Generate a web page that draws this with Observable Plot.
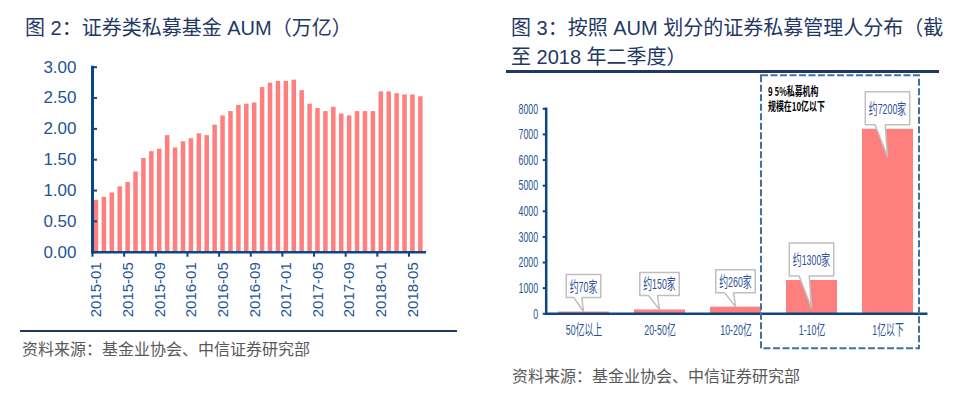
<!DOCTYPE html>
<html><head><meta charset="utf-8">
<script src="https://cdn.jsdelivr.net/npm/d3@7"></script>
<script src="https://cdn.jsdelivr.net/npm/@observablehq/plot@0.6"></script>
<style>
body{margin:0;background:#fff;width:957px;height:396px;overflow:hidden;position:relative;font-family:"Liberation Sans","Noto Sans CJK SC",sans-serif;}
.abs{position:absolute;}
.title{color:#1f3864;font-size:20px;line-height:29px;white-space:nowrap;}
.src{color:#595959;font-size:16px;line-height:20px;white-space:nowrap;}
svg{overflow:visible;}
</style></head><body>
<div class="abs title" style="left:25px;top:14px">图 2：证券类私募基金 AUM（万亿）</div>
<div id="left" class="abs" style="left:0;top:55px"></div>
<div class="abs" style="left:20px;top:330px;width:437px;height:2px;background:#1f3864"></div>
<div class="abs src" style="left:22px;top:340px">资料来源：基金业协会、中信证券研究部</div>
<div class="abs title" style="left:511px;top:14px">图 3：按照 AUM 划分的证券私募管理人分布（截<br>至 2018 年二季度）</div>
<div class="abs" style="left:506px;top:70px;width:433px;height:3px;background:#1f3864"></div>
<div id="right" class="abs" style="left:480px;top:70px"></div>
<div class="abs src" style="left:512px;top:367px">资料来源：基金业协会、中信证券研究部</div>
<script>
// ---------- data: left chart ----------
const months = ["2015-01","2015-02","2015-03","2015-04","2015-05","2015-06","2015-07","2015-08","2015-09","2015-10","2015-11","2015-12",
  "2016-01","2016-02","2016-03","2016-04","2016-05","2016-06","2016-07","2016-08","2016-09","2016-10","2016-11","2016-12",
  "2017-01","2017-02","2017-03","2017-04","2017-05","2017-06","2017-07","2017-08","2017-09","2017-10","2017-11","2017-12",
  "2018-01","2018-02","2018-03","2018-04","2018-05","2018-06"];
const aum = [0.84,0.89,0.96,1.06,1.13,1.30,1.52,1.63,1.67,1.89,1.69,1.79,
  1.84,1.92,1.89,2.06,2.21,2.28,2.38,2.40,2.42,2.67,2.74,2.77,
  2.77,2.79,2.62,2.40,2.33,2.28,2.35,2.24,2.21,2.28,2.28,2.28,
  2.60,2.60,2.57,2.55,2.55,2.52];
const tickMonths = ["2015-01","2015-05","2015-09","2016-01","2016-05","2016-09","2017-01","2017-05","2017-09","2018-01","2018-05"];
const yTicksL = [0,0.5,1,1.5,2,2.5,3];

// ---------- data: right chart ----------
const categories = ["50亿以上","20-50亿","10-20亿","1-10亿","1亿以下"];
const counts = [70,150,260,1300,7200];
const calloutLabels = ["约70家","约150家","约260家","约1300家","约7200家"];
const yTicksR = [0,1000,2000,3000,4000,5000,6000,7000,8000];
const noteLines = ["9 5%私募机构","规模在10亿以下"];

const NAVY = "#0d4683", BLUE = "#1f5496", BAR = "#ff7f7f";
const FONT = "'Liberation Sans','Noto Sans CJK SC',sans-serif";

// ---------- left chart ----------
const leftData = months.map((m,i)=>({month:m, v:aum[i]}));
const LW=460, LH=275, LML=92, LMR=35.7, LMT=11.7, LMB=78.3;
const plotWL = LW-LML-LMR, stepL = plotWL/months.length;
const left = Plot.plot({
  width:LW, height:LH, marginLeft:LML, marginRight:LMR, marginTop:LMT, marginBottom:LMB,
  style:{fontFamily:FONT, background:"transparent", overflow:"visible"},
  x:{type:"band", domain:months, paddingInner:0.43, paddingOuter:0.215, label:null},
  y:{domain:[0,3], label:null},
  marks:[
    Plot.barY(leftData,{x:"month", y:"v", fill:BAR}),
    Plot.tickY(yTicksL,{y:d=>d, stroke:NAVY, strokeWidth:2, insetRight:plotWL-5}),
    Plot.frame({anchor:"left", stroke:NAVY, strokeWidth:3}),
    Plot.frame({anchor:"bottom", stroke:NAVY, strokeWidth:2.5}),
    Plot.axisY({ticks:yTicksL, tickFormat:d3.format(".2f"), tickSize:0, tickPadding:16, fontSize:17, fill:BLUE, label:null}),
    Plot.axisX({ticks:tickMonths, tickSize:5, tickFormat:()=>"", dx:-stepL/2, stroke:NAVY, strokeWidth:2, label:null}),
    Plot.axisX({ticks:tickMonths, tickRotate:-90, tickSize:0, tickPadding:10, fontSize:15, fill:BLUE, label:null})
  ]
});
document.getElementById("left").appendChild(left);

// ---------- right chart ----------
const rightData = categories.map((c,i)=>({cat:c, n:counts[i]}));
const RW=470, RH=290, RML=65.7, RMR=24.3, RMT=38.3, RMB=46.7;
const right = Plot.plot({
  width:RW, height:RH, marginLeft:RML, marginRight:RMR, marginTop:RMT, marginBottom:RMB,
  style:{fontFamily:FONT, background:"transparent", overflow:"visible"},
  x:{type:"band", domain:categories, paddingInner:0.33, paddingOuter:0.165, label:null},
  y:{domain:[0,8000], label:null},
  marks:[
    Plot.barY(rightData,{x:"cat", y:"n", fill:BAR}),
    Plot.frame({anchor:"left", stroke:NAVY, strokeWidth:2.5}),
    Plot.frame({anchor:"bottom", stroke:NAVY, strokeWidth:2.5}),
    Plot.axisY({ticks:yTicksR, tickFormat:d=>String(d), tickSize:3, tickPadding:5, fontSize:15, fill:BLUE, stroke:NAVY, strokeWidth:2, label:null}),
    Plot.axisX({tickSize:0, tickPadding:11, fontSize:15, fill:BLUE, label:null})
  ]
});
document.getElementById("right").appendChild(right);

// condense right-chart text (narrow typeface look)
const K = 0.59;
function condense(node, k){
  const L = node.getComputedTextLength();
  if (L>0){ node.setAttribute("textLength",(L*k).toFixed(2)); node.setAttribute("lengthAdjust","spacingAndGlyphs"); }
  return L*k;
}
right.querySelectorAll("text").forEach(t=>condense(t,K));

// callouts and annotation box, positioned via the chart's own scales
const sx = right.scale("x"), sy = right.scale("y");
const bw = sx.bandwidth;
const svgR = d3.select(right);
const gC = svgR.append("g").attr("aria-label","callouts");
calloutLabels.forEach((lab,i)=>{
  const cx = sx.apply(categories[i]) + bw/2;
  const top = sy.apply(counts[i]);
  const big = counts[i] >= 1000;
  const h = big ? 33 : 23;
  const bottom = big ? top - 4 : top - 14;
  const tipY = big ? top + 28 : top;
  const cy = bottom - h/2;
  const path = gC.append("path").attr("fill","#fff").attr("stroke","#bfbfbf").attr("stroke-width",1.5).attr("stroke-linejoin","round");
  const text = gC.append("text").attr("x",cx).attr("y",cy).attr("text-anchor","middle").attr("dominant-baseline","central")
    .attr("fill","#2f4f9a").attr("font-size",15).attr("font-family",FONT).text(lab);
  const L = condense(text.node(),K);
  const w = L + 7;
  const l = cx - w/2, r = cx + w/2, t = bottom - h;
  const b1 = cx - w*0.28, b2 = cx - w*0.05;
  path.attr("d",`M${l},${t}H${r}V${bottom}H${b2}L${cx},${tipY}L${b1},${bottom}H${l}Z`);
});

// dashed box around the two smallest-size categories
const bx0 = sx.apply("10-20亿") + bw, bx1 = sx.apply("1亿以下") + bw + 6;
const by0 = RMT - 33, by1 = RH - RMB + 35;
svgR.append("rect").attr("x",bx0).attr("y",by0).attr("width",bx1-bx0).attr("height",by1-by0)
  .attr("fill","none").attr("stroke","#41719c").attr("stroke-width",2).attr("stroke-dasharray","7,2.5");
noteLines.forEach((s,i)=>{
  const t = svgR.append("text").attr("x",bx0+7).attr("y",by0+15+i*15.5).attr("dominant-baseline","central")
    .attr("text-anchor","start").attr("font-size",12).attr("font-weight","bold").attr("fill","#000")
    .attr("font-family","'Noto Sans CJK SC',sans-serif").text(s);
  condense(t.node(),0.66);
});
</script>
</body></html>
